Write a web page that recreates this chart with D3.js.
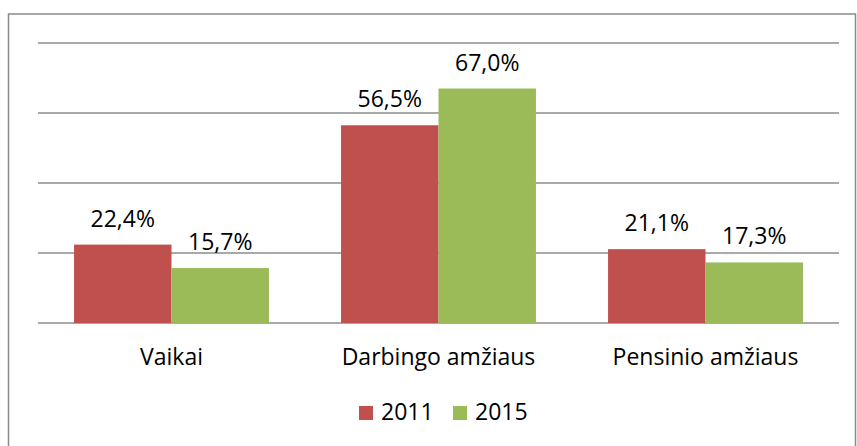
<!DOCTYPE html>
<html>
<head>
<meta charset="utf-8">
<script src="https://cdn.jsdelivr.net/npm/d3@7"></script>
<style>
  body { margin: 0; background: #fff; }
  text { font-family: "Open Sans", "Noto Sans", sans-serif; fill: #000; }
</style>
</head>
<body>
<svg id="chart" width="857" height="446"></svg>
<script>
// duomenys
var categories = ["Vaikai", "Darbingo amžiaus", "Pensinio amžiaus"];
var seriesNames = ["2011", "2015"];
var values2011 = [22.4, 56.5, 21.1];
var values2015 = [15.7, 67.0, 17.3];
var gridTicks = [0, 20, 40, 60, 80];
var colors = ["#c0504d", "#9bbb59"];

var svg = d3.select("#chart");
var margin = {top: 43, left: 38, right: 18, bottom: 123};
var width = 857 - margin.left - margin.right;
var height = 446 - margin.top - margin.bottom;

// rėmelis
svg.append("rect")
  .attr("x", 8.5).attr("y", 14)
  .attr("width", 847).attr("height", 440)
  .attr("fill", "none")
  .attr("stroke", "#8a8a8a")
  .attr("stroke-width", 1.5);

var g = svg.append("g").attr("transform", "translate(" + margin.left + "," + margin.top + ")");

var x0 = d3.scaleBand().domain(categories).range([0, width]).paddingInner(0.27).paddingOuter(0.135);
var x1 = d3.scaleBand().domain(seriesNames).range([0, x0.bandwidth()]);
var y = d3.scaleLinear().domain([0, 80]).range([height, 0]);

// tinklelis
g.append("g")
  .selectAll("line")
  .data(gridTicks)
  .enter()
  .append("line")
  .attr("x1", 0).attr("x2", width)
  .attr("y1", function (d) { return y(d); })
  .attr("y2", function (d) { return y(d); })
  .attr("stroke", "#8c8c8c")
  .attr("stroke-width", 1.4);

var rows = categories.map(function (c, i) {
  return {cat: c, vals: [values2011[i], values2015[i]]};
});

var groups = g.selectAll(".grp")
  .data(rows)
  .enter()
  .append("g")
  .attr("transform", function (d) { return "translate(" + x0(d.cat) + ",0)"; });

groups.selectAll("rect")
  .data(function (d) { return d.vals.map(function (v, j) { return {key: seriesNames[j], v: v, j: j}; }); })
  .enter()
  .append("rect")
  .attr("x", function (d) { return x1(d.key); })
  .attr("width", x1.bandwidth())
  .attr("y", function (d) { return y(d.v); })
  .attr("height", function (d) { return height - y(d.v); })
  .attr("fill", function (d) { return colors[d.j]; });

groups.selectAll(".lbl")
  .data(function (d) { return d.vals.map(function (v, j) { return {key: seriesNames[j], v: v}; }); })
  .enter()
  .append("text")
  .attr("x", function (d) { return x1(d.key) + x1.bandwidth() / 2; })
  .attr("y", function (d) { return y(d.v) - 18; })
  .attr("text-anchor", "middle")
  .style("font-size", "23px")
  .text(function (d) { return d.v.toFixed(1).replace(".", ",") + "%"; });

// kategorijų ašis
var xAxis = g.append("g")
  .attr("transform", "translate(0," + height + ")")
  .call(d3.axisBottom(x0).tickSize(0).tickPadding(0));
xAxis.select(".domain").remove();
xAxis.selectAll("text")
  .attr("y", 42)
  .attr("dy", 0)
  .style("font-size", "23px");

// legenda
var legend = svg.append("g").attr("transform", "translate(359,406)");
var items = legend.selectAll("g")
  .data(seriesNames)
  .enter()
  .append("g")
  .attr("transform", function (d, i) { return "translate(" + (i * 94) + ",0)"; });
items.append("rect")
  .attr("width", 14).attr("height", 14)
  .attr("fill", function (d, i) { return colors[i]; });
items.append("text")
  .attr("x", 22).attr("y", 14)
  .style("font-size", "23px")
  .text(function (d) { return d; });
</script>
</body>
</html>
